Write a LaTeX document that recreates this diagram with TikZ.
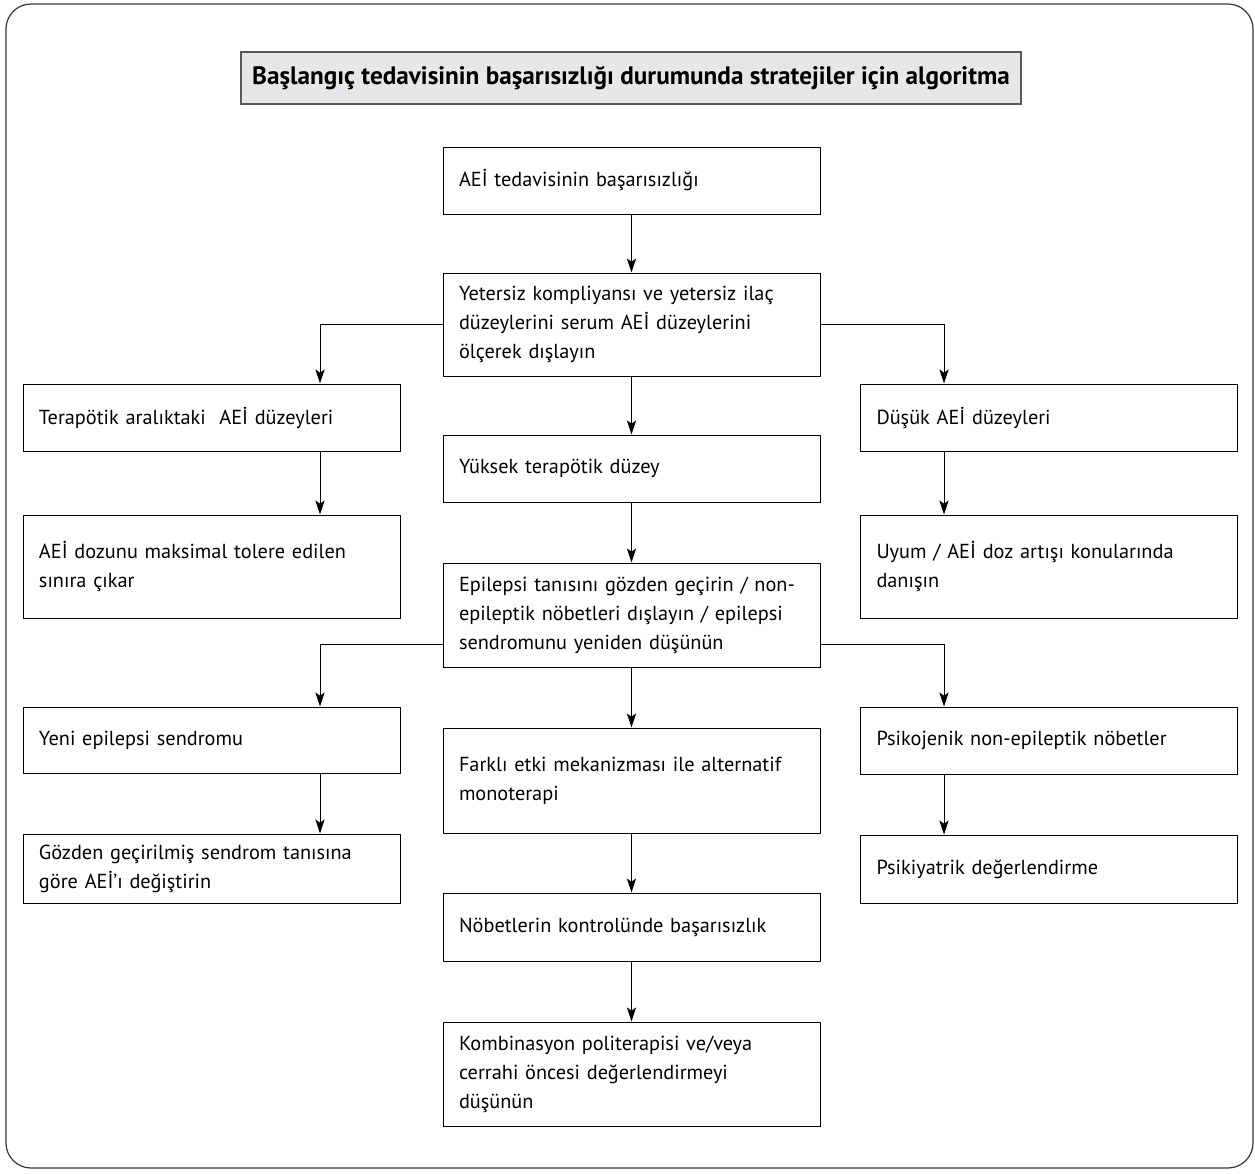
\documentclass[tikz,border=0pt]{standalone}
\usepackage{fontspec}
\setmainfont{PT Sans}
\usepackage{tikz}
\usetikzlibrary{arrows.meta}

\definecolor{titlegray}{HTML}{E6E7E8}
\definecolor{framegray}{HTML}{58595B}

\tikzset{
  box/.style={draw=black, line width=0.5pt, rectangle, anchor=center,
    text width=172.5pt, inner xsep=8pt, align=left,
    font=\fontsize{10.15}{14.5}\selectfont},
  titlebox/.style={draw=framegray, fill=titlegray, line width=0.6pt,
    minimum width=390pt, minimum height=26pt,
    font=\fontsize{12.6}{14}\selectfont\bfseries},
}

\begin{document}
\begin{tikzpicture}[x=0.5pt, y=-0.5pt, >={Stealth[length=7pt,width=4.6pt,inset=1.6pt]}, line width=0.5pt]
\useasboundingbox (0,0) rectangle (1255,1174);
%Rahmen
\draw[framegray!60!black, line width=0.6pt, rounded corners=12.5pt] (6,4) rectangle (1253,1168);

\node[titlebox] (title) at (631,78) {Başlangıç tedavisinin başarısızlığı durumunda stratejiler için algoritma};

%Spalten fuer die Pfeile
\coordinate (lcol) at (320,0);
\coordinate (rcol) at (944,0);
\coordinate (epiout) at (0,644);

%mittlere Spalte
\node[box, minimum height=33.5pt] (fail) at (631.5,180.5) {AEİ tedavisinin başarısızlığı};
\node[box, minimum height=51.5pt] (check) at (631.5,324.5) {Yetersiz kompliyansı ve yetersiz ilaç\\ düzeylerini serum AEİ düzeylerini\\ ölçerek dışlayın};
\node[box, minimum height=33.5pt] (high) at (631.5,468.5) {Yüksek terapötik düzey};
\node[box, minimum height=52pt] (epi) at (631.5,615) {Epilepsi tanısını gözden geçirin / non-\\ epileptik nöbetleri dışlayın / epilepsi\\ sendromunu yeniden düşünün};
\node[box, minimum height=52.5pt] (mono) at (631.5,780.5) {Farklı etki mekanizması ile alternatif\\ monoterapi};
\node[box, minimum height=34pt] (uncontr) at (631.5,927) {Nöbetlerin kontrolünde başarısızlık};
\node[box, minimum height=52pt] (poly) at (631.5,1074) {Kombinasyon politerapisi ve/veya\\ cerrahi öncesi değerlendirmeyi\\ düşünün};

%linke Spalte
\node[box, minimum height=33.5pt] (therap) at (211.5,417.5) {Terapötik aralıktaki \ AEİ düzeyleri};
\node[box, minimum height=51.5pt] (maxdose) at (211.5,566.5) {AEİ dozunu maksimal tolere edilen\\ sınıra çıkar};
\node[box, minimum height=33pt] (newsyn) at (211.5,740) {Yeni epilepsi sendromu};
\node[box, minimum height=34.5pt] (change) at (211.5,868.5) {Gözden geçirilmiş sendrom tanısına\\ göre AEİ’ı değiştirin};

%rechte Spalte
\node[box, minimum height=33.5pt] (low) at (1049,417.5) {Düşük AEİ düzeyleri};
\node[box, minimum height=51.5pt] (advice) at (1049,566.5) {Uyum / AEİ doz artışı konularında\\ danışın};
\node[box, minimum height=33.5pt] (psy) at (1049,740.5) {Psikojenik non-epileptik nöbetler};
\node[box, minimum height=34pt] (psyeval) at (1049,869) {Psikiyatrik değerlendirme};

%Pfeile
\path[->]
(fail) edge (check)
(check) edge (high)
(high) edge (epi)
(epi) edge (mono)
(mono) edge (uncontr)
(uncontr) edge (poly);

\draw[->] (check.west) -| (therap.north -| lcol);
\draw[->] (check.east) -| (low.north -| rcol);
\draw[->] (epi.west |- epiout) -| (newsyn.north -| lcol);
\draw[->] (epi.east |- epiout) -| (psy.north -| rcol);

\draw[->] (therap.south -| lcol) -- (maxdose.north -| lcol);
\draw[->] (newsyn.south -| lcol) -- (change.north -| lcol);
\draw[->] (low.south -| rcol) -- (advice.north -| rcol);
\draw[->] (psy.south -| rcol) -- (psyeval.north -| rcol);
\end{tikzpicture}
\end{document}
